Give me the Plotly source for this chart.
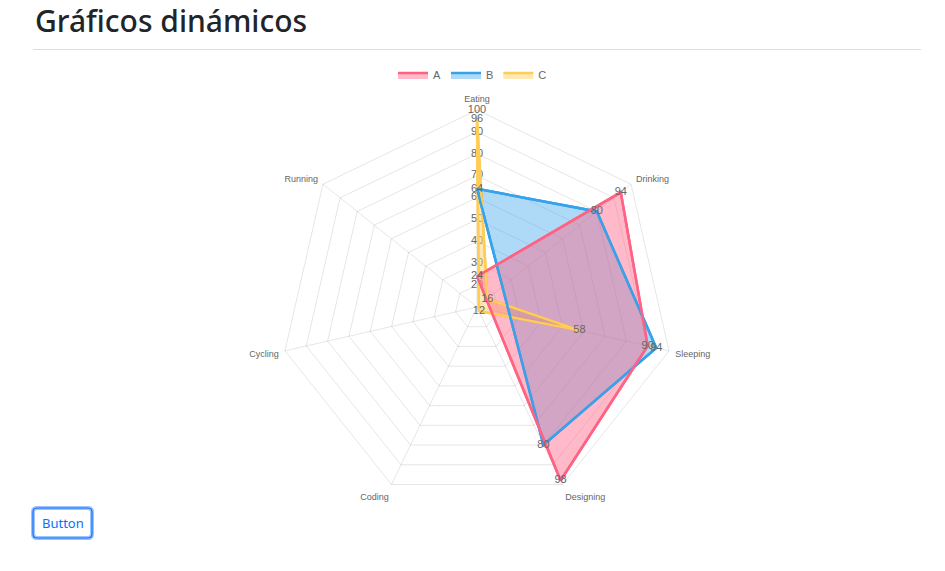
import plotly.graph_objects as go

categories = ["Eating", "Drinking", "Sleeping", "Designing", "Coding", "Cycling", "Running"]
series_names = ["A", "B", "C"]
values_a = [24, 94, 90, 98]
values_b = [64, 80, 94, 80]
values_c = [96, 16, 58, 12]
tick_values = [20, 30, 40, 50, 60, 70, 80, 90, 100]
r_min, r_max = 10, 100

line_colors = ["rgb(255,99,132)", "rgb(54,162,235)", "rgb(255,205,86)"]
fill_colors = ["rgba(255,99,132,0.45)", "rgba(54,162,235,0.4)", "rgba(255,205,86,0.45)"]

W, H = 945, 571
def px(x): return x / W
def py(y): return 1 - y / H

fig = go.Figure()

# invisible trace to register all categories
fig.add_trace(go.Scatterpolar(r=[r_min] * len(categories), theta=categories, mode="lines",
                              line=dict(width=0), opacity=0, showlegend=False, hoverinfo="skip"))
# radial tick labels along the first axis
fig.add_trace(go.Scatterpolar(r=tick_values, theta=[categories[0]] * len(tick_values), mode="text",
                              text=[str(v) for v in tick_values],
                              textfont=dict(size=11, color="#666", family="Arial"),
                              showlegend=False, hoverinfo="skip"))

series = list(enumerate(zip(series_names, [values_a, values_b, values_c], line_colors, fill_colors)))
# fills (Chart.js draws the last dataset first)
for rank, (name, vals, lc, fc) in reversed(series):
    th = categories[:len(vals)]
    fig.add_trace(go.Scatterpolar(
        r=vals + [vals[0]], theta=th + [th[0]], name=name, legendrank=rank + 1,
        legendgroup=name, mode="lines",
        fill="toself", fillcolor=fc, line=dict(color=lc, width=2.5),
    ))
# lines and value labels on top
for rank, (name, vals, lc, fc) in reversed(series):
    th = categories[:len(vals)]
    fig.add_trace(go.Scatterpolar(
        r=vals + [vals[0]], theta=th + [th[0]], name=name, legendgroup=name, showlegend=False,
        mode="lines", line=dict(color=lc, width=2.5),
    ))
for rank, (name, vals, lc, fc) in series:
    th = categories[:len(vals)]
    fig.add_trace(go.Scatterpolar(
        r=vals, theta=th, name=name, legendgroup=name, showlegend=False,
        mode="text", text=[str(v) for v in vals], textposition="middle center",
        textfont=dict(size=11, color="#666", family="Arial"),
    ))

fig.update_layout(
    width=W, height=H, margin=dict(l=0, r=0, t=0, b=0),
    paper_bgcolor="white", plot_bgcolor="white",
    polar=dict(
        domain=dict(x=[px(280), px(674)], y=[py(504), py(110)]),
        gridshape="linear", bgcolor="white",
        radialaxis=dict(range=[r_min, r_max], tickvals=tick_values, showticklabels=False,
                        gridcolor="rgba(0,0,0,0.1)", showline=False, ticks=""),
        angularaxis=dict(type="category", categoryorder="array", categoryarray=categories,
                         direction="clockwise", rotation=90,
                         gridcolor="rgba(0,0,0,0.1)", linecolor="rgba(0,0,0,0.1)",
                         tickfont=dict(size=9, color="#666", family="Arial"),
                         ticks="outside", ticklen=4, tickcolor="rgba(0,0,0,0)"),
    ),
    legend=dict(orientation="h", x=0.5, xanchor="center", y=py(75), yanchor="middle",
                font=dict(size=11, color="#666", family="Arial"), itemwidth=30,
                traceorder="normal"),
    font=dict(family="Arial"),
)

# page heading
fig.add_annotation(x=px(33), y=py(20), xref="paper", yref="paper", xanchor="left", yanchor="middle",
                   text="Gráficos dinámicos", showarrow=False,
                   font=dict(size=30, color="#212529", family="Noto Sans", weight=500))
fig.add_shape(type="line", xref="paper", yref="paper", x0=px(33), x1=px(921), y0=py(49.5), y1=py(49.5),
              line=dict(color="#dedede", width=1))
# button
x0, x1, y0, y1, rr = 33, 92, 508, 538, 4
path = (f"M {px(x0+rr)},{py(y0)} L {px(x1-rr)},{py(y0)} Q {px(x1)},{py(y0)} {px(x1)},{py(y0+rr)} "
        f"L {px(x1)},{py(y1-rr)} Q {px(x1)},{py(y1)} {px(x1-rr)},{py(y1)} "
        f"L {px(x0+rr)},{py(y1)} Q {px(x0)},{py(y1)} {px(x0)},{py(y1-rr)} "
        f"L {px(x0)},{py(y0+rr)} Q {px(x0)},{py(y0)} {px(x0+rr)},{py(y0)} Z")
fig.add_shape(type="path", path=path, xref="paper", yref="paper",
              line=dict(color="rgba(13,110,253,0.4)", width=4), fillcolor="white")
fig.add_shape(type="path", path=path, xref="paper", yref="paper",
              line=dict(color="#0d6efd", width=1.2), fillcolor="rgba(0,0,0,0)")
fig.add_annotation(x=px(62.5), y=py(523), xref="paper", yref="paper", xanchor="center", yanchor="middle",
                   text="Button", showarrow=False,
                   font=dict(size=13, color="#0d6efd", family="Noto Sans"))

fig.write_html("out.html")
